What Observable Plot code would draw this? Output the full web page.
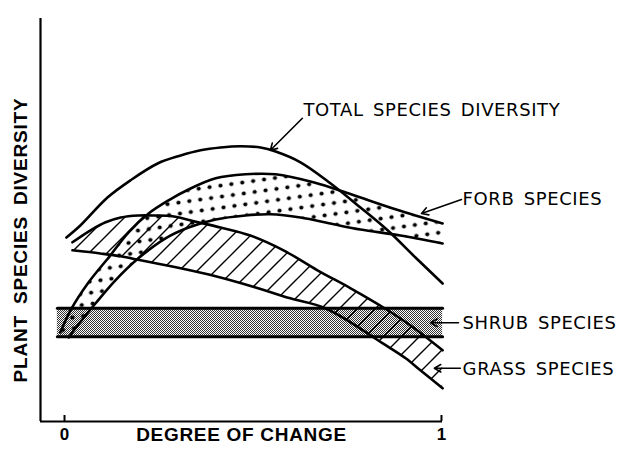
<!DOCTYPE html>
<html><head><meta charset="utf-8">
<script src="https://cdn.jsdelivr.net/npm/d3@7"></script>
<script src="https://cdn.jsdelivr.net/npm/@observablehq/plot@0.6"></script>
<style>
html,body{margin:0;padding:0;background:#fff;}
</style>
</head><body><div id="chart"></div>
<script>
// ---- data (x = degree of change 0..1, y = diversity, arbitrary units) ----
const xTicks = [0, 1];
const xTickLabels = ["0", "1"];
const xLabel = "DEGREE OF CHANGE";
const yLabel = "PLANT SPECIES DIVERSITY";

const totalX = [0.005, 0.042, 0.114, 0.175, 0.247, 0.308, 0.361, 0.414, 0.467, 0.520, 0.560, 0.626, 0.706, 0.785, 0.857, 0.931, 1.003];
const totalY = [4.60, 4.90, 5.60, 6.03, 6.45, 6.65, 6.78, 6.85, 6.88, 6.85, 6.75, 6.48, 5.95, 5.35, 4.78, 4.10, 3.45];

const forbUpperX = [-0.011, 0.016, 0.064, 0.117, 0.170, 0.223, 0.276, 0.329, 0.401, 0.480, 0.560, 0.660, 0.760, 0.880, 1.003];
const forbUpperY = [2.23, 2.78, 3.48, 4.10, 4.73, 5.20, 5.53, 5.80, 6.08, 6.18, 6.18, 5.98, 5.68, 5.30, 4.95];
const forbLowerX = [0.011, 0.029, 0.082, 0.135, 0.196, 0.268, 0.329, 0.401, 0.480, 0.546, 0.626, 0.714, 0.785, 0.891, 1.003];
const forbLowerY = [2.10, 2.33, 2.95, 3.53, 4.08, 4.58, 4.85, 5.05, 5.15, 5.18, 5.10, 4.93, 4.80, 4.65, 4.45];

const grassUpperX = [0.021, 0.069, 0.109, 0.149, 0.196, 0.241, 0.286, 0.355, 0.414, 0.493, 0.581, 0.671, 0.759, 0.846, 0.918, 1.003];
const grassUpperY = [4.48, 4.78, 4.98, 5.10, 5.15, 5.15, 5.13, 4.98, 4.85, 4.65, 4.28, 3.78, 3.33, 2.85, 2.40, 1.78];
const grassLowerX = [0.021, 0.095, 0.149, 0.202, 0.255, 0.308, 0.401, 0.507, 0.599, 0.687, 0.759, 0.820, 0.865, 0.905, 0.944, 1.003];
const grassLowerY = [4.28, 4.20, 4.13, 4.03, 3.93, 3.83, 3.63, 3.35, 3.08, 2.85, 2.48, 2.10, 1.83, 1.58, 1.28, 0.83];

const shrubX = [-0.019, 1.003];
const shrubTop = [2.83, 2.83];
const shrubBottom = [2.12, 2.12];

// annotations (data units)
const labelTexts = ["TOTAL SPECIES DIVERSITY", "FORB SPECIES", "SHRUB SPECIES", "GRASS SPECIES"];
const labelX = [0.634, 1.056, 1.056, 1.056];
const labelY = [7.77, 5.55, 2.45, 1.31];
const arrowX1 = [0.631, 1.053, 1.045, 1.050];
const arrowY1 = [7.58, 5.55, 2.47, 1.33];
const arrowX2 = [0.546, 0.947, 0.971, 0.981];
const arrowY2 = [6.78, 5.20, 2.47, 1.33];

// ---- chart ----
const xDomain = [-0.0637, 1.0027];
const yDomain = [0, 10.075];
const idx = a => a.map((_, i) => i);

const defs = () => {
  const d = d3.create("svg:defs");
  const dots = d.append("pattern").attr("id", "dots").attr("patternUnits", "userSpaceOnUse").attr("width", 11).attr("height", 11).attr("patternTransform", "rotate(-8)");
  dots.append("circle").attr("cx", 5.5).attr("cy", 5.5).attr("r", 2.1).attr("fill", "#000");
  const hatch = d.append("pattern").attr("id", "hatch").attr("patternUnits", "userSpaceOnUse").attr("width", 18).attr("height", 18);
  hatch.append("path").attr("d", "M-4.5,4.5L4.5,-4.5M0,18L18,0M13.5,22.5L22.5,13.5").attr("stroke", "#000").attr("stroke-width", 1.4);
  const stip = d.append("pattern").attr("id", "stip").attr("patternUnits", "userSpaceOnUse").attr("width", 2).attr("height", 2);
  stip.append("rect").attr("width", 1).attr("height", 1).attr("fill", "#000").attr("fill-opacity", 0.8);
  stip.append("rect").attr("x", 1).attr("y", 1).attr("width", 1).attr("height", 1).attr("fill", "#000").attr("fill-opacity", 0.8);
  return d.node();
};

const curve = "catmull-rom";
const lw = 2.6;

const chart = Plot.plot({
  width: 618,
  height: 454,
  marginLeft: 40,
  marginRight: 176,
  marginTop: 18,
  marginBottom: 33,
  x: {domain: xDomain, axis: null},
  y: {domain: yDomain, axis: null},
  style: {background: "#fff", color: "#000", fontFamily: "Liberation Sans, Arial, sans-serif", overflow: "visible"},
  marks: [
    defs,
    // fills
    Plot.areaY(idx(shrubX), {x: shrubX, y1: shrubBottom, y2: shrubTop, fill: "url(#stip)"}),
    Plot.area(idx(grassUpperX), {x1: grassUpperX, y1: grassUpperY, x2: grassLowerX, y2: grassLowerY, fill: "url(#hatch)", curve}),
    Plot.area(idx(forbUpperX), {x1: forbUpperX, y1: forbUpperY, x2: forbLowerX, y2: forbLowerY, fill: "url(#dots)", curve}),
    // boundaries
    Plot.line(idx(shrubX), {x: shrubX, y: shrubTop, stroke: "#000", strokeWidth: 3}),
    Plot.line(idx(shrubX), {x: shrubX, y: shrubBottom, stroke: "#000", strokeWidth: 3}),
    Plot.line(idx(grassUpperX), {x: grassUpperX, y: grassUpperY, stroke: "#000", strokeWidth: lw, curve}),
    Plot.line(idx(grassLowerX), {x: grassLowerX, y: grassLowerY, stroke: "#000", strokeWidth: lw, curve}),
    Plot.line(idx(forbUpperX), {x: forbUpperX, y: forbUpperY, stroke: "#000", strokeWidth: lw, curve}),
    Plot.line(idx(forbLowerX), {x: forbLowerX, y: forbLowerY, stroke: "#000", strokeWidth: lw, curve}),
    Plot.line(idx(totalX), {x: totalX, y: totalY, stroke: "#000", strokeWidth: lw, curve}),
    // axes
    Plot.ruleY([yDomain[0]], {stroke: "#000", strokeWidth: 2.2}),
    Plot.ruleX([xDomain[0]], {stroke: "#000", strokeWidth: 2.2}),
    Plot.ruleX(xTicks, {y1: 0, y2: 0.15, stroke: "#000", strokeWidth: 2}),
    Plot.text(xTicks, {x: d => d, y: yDomain[0], text: (d, i) => xTickLabels[i], dy: 13, fontSize: 17, fontWeight: "bold"}),
    Plot.text([xLabel], {frameAnchor: "bottom", text: d => d, dy: 19, fontSize: 19, fontWeight: "bold"}),
    Plot.text([yLabel], {frameAnchor: "left", text: d => d, textAnchor: "middle", rotate: -90, dx: -20, dy: 20, fontSize: 19, fontWeight: "bold"}),
    // annotations
    Plot.arrow(idx(arrowX1), {x1: arrowX1, y1: arrowY1, x2: arrowX2, y2: arrowY2, stroke: "#000", strokeWidth: 1.6, headLength: 7}),
    Plot.text(idx(labelTexts), {x: labelX, y: labelY, text: labelTexts, textAnchor: "start", fontSize: 18, fontFamily: "DejaVu Sans"})
  ]
});
document.getElementById("chart").appendChild(chart);

// letter spacing to match the lettering widths of the reference
d3.select(chart).selectAll("text").each(function() {
  const t = this.textContent;
  if (labelTexts.includes(t)) { this.style.letterSpacing = "0.6px"; this.style.wordSpacing = "3px"; }
  else if (t === yLabel) { this.style.letterSpacing = "0.8px"; this.style.wordSpacing = "5px"; }
  else if (t === xLabel) { this.style.letterSpacing = "0.7px"; }
});
</script>
</body></html>
